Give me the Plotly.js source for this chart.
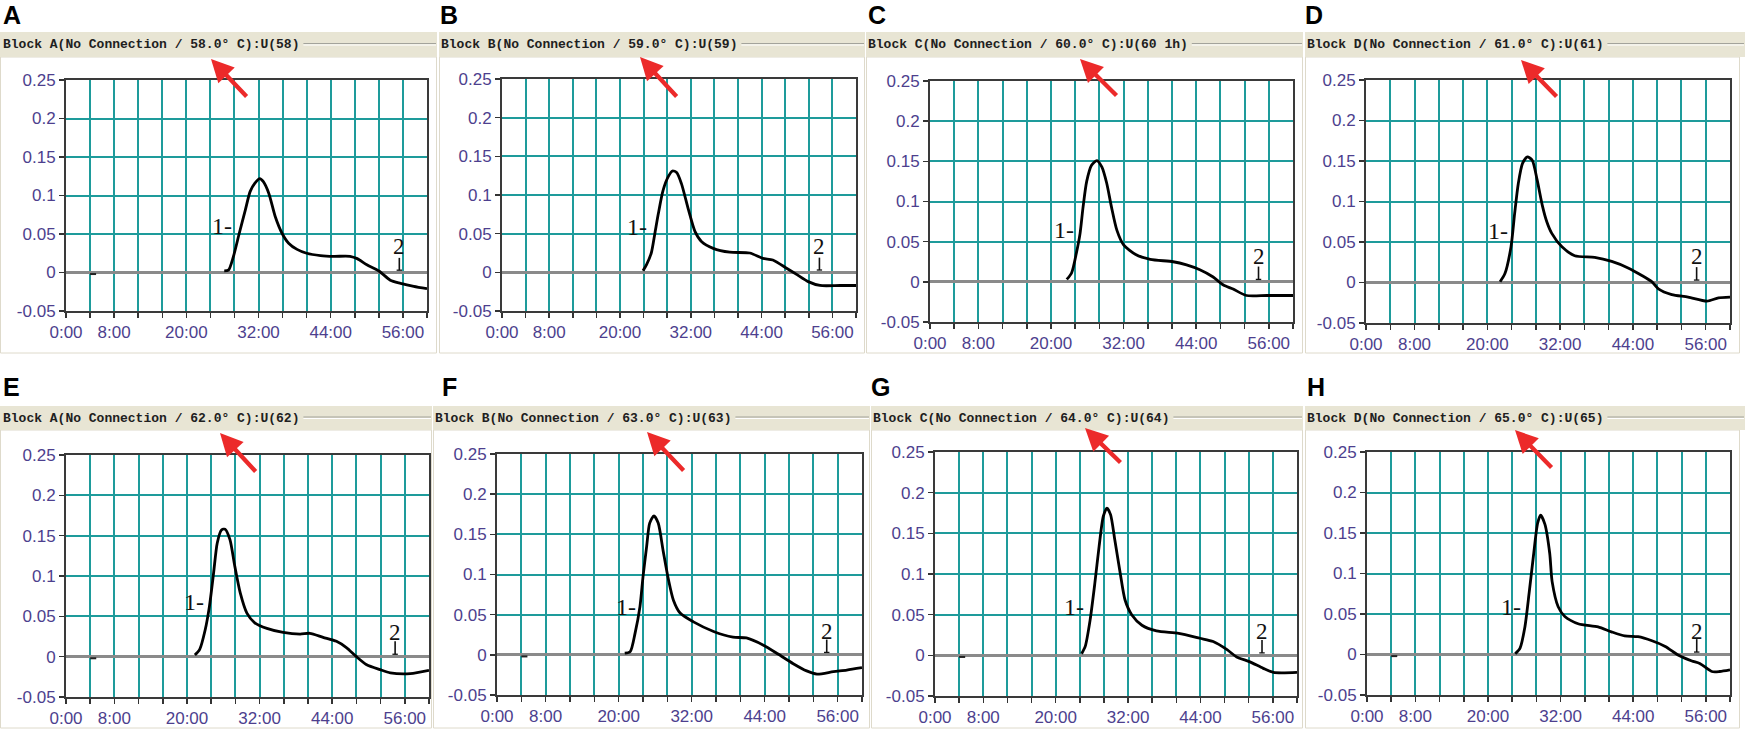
<!DOCTYPE html>
<html><head><meta charset="utf-8">
<script src="https://cdn.plot.ly/plotly-3.0.1.min.js"></script>
<style>html,body{margin:0;padding:0;background:#fff;}#chart{width:1745px;height:729px;}</style>
</head><body><div id="chart"></div>
<script>
// ---------------- DATA ----------------
const panelLetters = ['A','B','C','D','E','F','G','H'];
const panelTitles = [
  'Block A(No Connection / 58.0° C):U(58)',
  'Block B(No Connection / 59.0° C):U(59)',
  'Block C(No Connection / 60.0° C):U(60 1h)',
  'Block D(No Connection / 61.0° C):U(61)',
  'Block A(No Connection / 62.0° C):U(62)',
  'Block B(No Connection / 63.0° C):U(63)',
  'Block C(No Connection / 64.0° C):U(64)',
  'Block D(No Connection / 65.0° C):U(65)'
];
const xTickVals = [0, 8, 20, 32, 44, 56];
const xTickText = ['0:00', '8:00', '20:00', '32:00', '44:00', '56:00'];
const yTickVals = [-0.05, 0, 0.05, 0.1, 0.15, 0.2, 0.25];
const yTickText = ['-0.05', '0', '0.05', '0.1', '0.15', '0.2', '0.25'];

const timeA = [26.3, 27.0, 27.8, 28.8, 29.8, 30.6, 31.4, 32.2, 32.8, 33.7, 34.8, 35.9, 37.0, 38.4, 40.0, 42.3, 44.5, 47.2, 48.4, 50.0, 52.0, 53.9, 55.6, 57.8, 60.0];
const signalA = [0.002, 0.003, 0.020, 0.051, 0.081, 0.105, 0.116, 0.122, 0.118, 0.103, 0.072, 0.051, 0.038, 0.030, 0.025, 0.022, 0.021, 0.021, 0.018, 0.010, 0.002, -0.010, -0.014, -0.018, -0.021];

const timeB = [23.9, 24.5, 25.3, 25.9, 26.5, 27.3, 28.2, 28.9, 29.6, 30.4, 31.6, 32.7, 33.8, 35.8, 38.6, 42.0, 44.2, 45.9, 48.3, 50.0, 51.9, 53.9, 57.3, 60.0];
const signalB = [0.002, 0.010, 0.025, 0.050, 0.076, 0.106, 0.124, 0.131, 0.129, 0.115, 0.081, 0.053, 0.040, 0.031, 0.026, 0.025, 0.018, 0.016, 0.005, -0.003, -0.012, -0.017, -0.017, -0.017];

const timeC = [22.6, 23.4, 24.2, 24.8, 25.3, 25.9, 26.7, 27.6, 28.4, 29.2, 30.0, 30.9, 32.0, 34.0, 36.4, 40.2, 42.4, 44.6, 46.8, 48.5, 50.1, 52.3, 55.7, 60.0];
const signalC = [0.003, 0.011, 0.036, 0.060, 0.093, 0.125, 0.145, 0.151, 0.143, 0.123, 0.093, 0.064, 0.046, 0.034, 0.028, 0.025, 0.021, 0.015, 0.006, -0.004, -0.009, -0.017, -0.017, -0.017];

const timeD = [22.1, 22.9, 23.9, 24.5, 25.1, 25.8, 26.6, 27.4, 28.2, 29.1, 29.8, 30.6, 32.3, 34.4, 37.7, 40.5, 43.2, 45.4, 47.1, 48.2, 50.4, 53.1, 56.2, 58.1, 60.0];
const signalD = [0.001, 0.011, 0.044, 0.085, 0.122, 0.147, 0.155, 0.151, 0.127, 0.094, 0.075, 0.061, 0.044, 0.033, 0.031, 0.026, 0.018, 0.009, 0.001, -0.008, -0.015, -0.018, -0.023, -0.019, -0.018];

const timeE = [21.3, 22.1, 23.0, 23.7, 24.4, 25.0, 25.7, 26.3, 27.1, 27.9, 28.8, 29.9, 31.2, 33.2, 35.9, 38.7, 40.3, 42.5, 44.7, 46.4, 48.0, 49.7, 51.9, 53.6, 56.9, 60.0];
const signalE = [0.002, 0.009, 0.033, 0.062, 0.104, 0.141, 0.157, 0.158, 0.145, 0.112, 0.079, 0.054, 0.042, 0.035, 0.030, 0.028, 0.029, 0.024, 0.019, 0.011, 0.000, -0.010, -0.016, -0.020, -0.021, -0.017];

const timeF = [21.0, 21.9, 22.7, 23.5, 24.0, 24.6, 25.1, 25.8, 26.5, 27.3, 28.2, 29.0, 30.1, 32.3, 35.6, 38.8, 41.0, 43.8, 46.2, 48.7, 50.9, 52.6, 55.3, 57.5, 60.0];
const signalF = [0.002, 0.004, 0.027, 0.060, 0.097, 0.135, 0.164, 0.173, 0.164, 0.130, 0.093, 0.068, 0.052, 0.041, 0.029, 0.022, 0.021, 0.012, 0.001, -0.011, -0.020, -0.024, -0.021, -0.019, -0.016];

const timeG = [24.3, 24.9, 25.7, 26.5, 27.2, 27.9, 28.5, 29.1, 29.8, 30.7, 31.5, 32.6, 34.3, 36.7, 40.4, 43.9, 46.1, 48.4, 50.0, 52.2, 54.4, 56.1, 60.0];
const signalG = [0.002, 0.011, 0.043, 0.089, 0.134, 0.171, 0.181, 0.173, 0.142, 0.101, 0.068, 0.050, 0.037, 0.030, 0.027, 0.021, 0.017, 0.007, -0.002, -0.008, -0.016, -0.021, -0.021];

const timeH = [24.5, 25.3, 26.1, 26.8, 27.5, 28.2, 28.7, 29.4, 30.2, 30.6, 31.6, 32.7, 34.9, 38.2, 40.4, 42.6, 44.8, 47.1, 49.3, 51.5, 53.7, 55.0, 57.0, 58.3, 60.0];
const signalH = [0.001, 0.008, 0.034, 0.076, 0.121, 0.162, 0.172, 0.161, 0.125, 0.090, 0.059, 0.047, 0.038, 0.034, 0.028, 0.023, 0.022, 0.017, 0.010, -0.001, -0.008, -0.011, -0.021, -0.021, -0.019];

// small baseline artefact near 4:00 (time, value)
const artefactTime = [4.0, 5.0];
const artefactValue = [-0.002, -0.002];
const artefactPanels = [0, 4, 5, 6, 7];

const allTimes = [timeA, timeB, timeC, timeD, timeE, timeF, timeG, timeH];
const allSignals = [signalA, signalB, signalC, signalD, signalE, signalF, signalG, signalH];

// ---------------- LAYOUT (pixels) ----------------
const W = 1745, H = 729;
const plotBoxes = [
  [66, 427, 80, 311], [502, 856, 79, 311], [930, 1293, 81, 322], [1366, 1730, 80, 323],
  [66, 429, 455, 697], [497, 862, 454, 695], [935, 1297, 452, 696], [1367, 1730, 452, 695]
];
const barBoxes = [
  [0, 437, 32, 57], [439, 865, 32, 57], [866, 1303, 32, 57], [1305, 1745, 32, 57],
  [0, 432, 406, 430], [433, 870, 406, 430], [871, 1303, 406, 430], [1305, 1745, 406, 430]
];
const panelBottom = [353, 353, 353, 353, 728, 728, 728, 728];
const textStart = [2, 440, 867, 1306, 2, 434, 872, 1306];
const letterPos = [[3, 15], [440, 15], [868, 15], [1305, 15], [3, 387], [442, 387], [871, 387], [1307, 387]];
const arrows = [
  [211, 59, 248, 98], [640, 57, 678, 98], [1080, 59, 1118, 97], [1521, 60, 1558, 98],
  [220, 433, 257, 473], [647, 432, 685, 472], [1085, 428, 1122, 464], [1515, 430, 1553, 469]
];
const label1Pos = [[27.8, 0.061], [24.8, 0.059], [24.0, 0.0645], [23.6, 0.063], [23.0, 0.068], [23.0, 0.060], [24.9, 0.060], [25.7, 0.059]];
const label2Pos = [[55.4, 0.034], [53.8, 0.033], [54.3, 0.031], [54.5, 0.032], [54.4, 0.030], [54.2, 0.029], [54.2, 0.029], [54.5, 0.028]];

const px = x => x / W;
const py = y => 1 - y / H;

const traces = [];
const layout = {
  width: W, height: H,
  margin: {l: 0, r: 0, t: 0, b: 0},
  paper_bgcolor: '#ffffff', plot_bgcolor: '#ffffff',
  showlegend: false,
  shapes: [], annotations: []
};

const gridColor = '#1e9b9b';
const tickFont = {family: 'Liberation Sans, Arial, sans-serif', size: 17, color: '#4d3f8e'};

for (let i = 0; i < 8; i++) {
  const n = i + 1;
  const xa = 'xaxis' + (n === 1 ? '' : n), ya = 'yaxis' + (n === 1 ? '' : n);
  const xr = 'x' + (n === 1 ? '' : n), yr = 'y' + (n === 1 ? '' : n);
  const [x0, x1, y0, y1] = plotBoxes[i];
  layout[xa] = {
    domain: [px(x0), px(x1)], anchor: yr, range: [0, 60], fixedrange: true,
    tickmode: 'array', tickvals: xTickVals, ticktext: xTickText,
    ticks: 'outside', ticklen: 5, tickwidth: 1.5, tickcolor: '#333',
    showgrid: true, gridcolor: gridColor, gridwidth: 2,
    minor: {dtick: 4, tick0: 0, showgrid: true, gridcolor: gridColor, gridwidth: 2, ticks: 'outside', ticklen: 5, tickwidth: 1.5, tickcolor: '#333'},
    zeroline: false, showline: true, mirror: true, linecolor: '#3a3a3a', linewidth: 2,
    tickfont: tickFont
  };
  layout[ya] = {
    domain: [py(y1), py(y0)], anchor: xr, range: [-0.05, 0.25], fixedrange: true,
    tickmode: 'array', tickvals: yTickVals, ticktext: yTickText,
    ticks: 'outside', ticklen: 5, tickwidth: 1.5, tickcolor: '#333',
    showgrid: true, gridcolor: gridColor, gridwidth: 2,
    zeroline: true, zerolinecolor: '#8a8a8a', zerolinewidth: 3,
    showline: true, mirror: true, linecolor: '#3a3a3a', linewidth: 2,
    tickfont: tickFont
  };

  // panel frame
  const [bx0, bx1, by0, by1] = barBoxes[i];
  layout.shapes.push({type: 'rect', xref: 'paper', yref: 'paper', x0: px(bx0 + 0.5), x1: px(Math.min(bx1, 1740) - 0.5), y0: py(panelBottom[i]), y1: py(by1),
    line: {color: '#dedacb', width: 1}, fillcolor: 'rgba(0,0,0,0)', layer: 'below'});
  // title bar
  layout.shapes.push({type: 'rect', xref: 'paper', yref: 'paper', x0: px(bx0), x1: px(bx1), y0: py(by1), y1: py(by0),
    line: {width: 0}, fillcolor: '#e8e5d4', layer: 'below'});
  const midY = (by0 + by1) / 2;
  const lineStart = textStart[i] + panelTitles[i].length * 7.8 + 5;
  layout.shapes.push({type: 'line', xref: 'paper', yref: 'paper', x0: px(lineStart), x1: px(bx1 - 1), y0: py(midY - 1), y1: py(midY - 1),
    line: {color: '#a3a39b', width: 1}, layer: 'below'});
  layout.shapes.push({type: 'line', xref: 'paper', yref: 'paper', x0: px(lineStart), x1: px(bx1 - 1), y0: py(midY + 0.5), y1: py(midY + 0.5),
    line: {color: '#ffffff', width: 1}, layer: 'below'});
  layout.annotations.push({xref: 'paper', yref: 'paper', x: px(textStart[i]), y: py(midY), xanchor: 'left', yanchor: 'middle',
    text: '<b>' + panelTitles[i] + '</b>', showarrow: false, borderpad: 0,
    font: {family: 'Liberation Mono, Courier New, monospace', size: 13, color: '#202020'}});
  // panel letter
  layout.annotations.push({xref: 'paper', yref: 'paper', x: px(letterPos[i][0] - 1), y: py(letterPos[i][1]), xanchor: 'left', yanchor: 'middle',
    text: '<b>' + panelLetters[i] + '</b>', showarrow: false, borderpad: 0,
    font: {family: 'Liberation Sans, Arial, sans-serif', size: 25, color: '#000'}});
  // red arrow
  const [tx, ty, sx, sy] = arrows[i];
  layout.annotations.push({xref: 'paper', yref: 'paper', x: px(tx), y: py(ty), ax: sx - tx, ay: sy - ty,
    text: '', showarrow: true, arrowhead: 2, arrowsize: 1.05, arrowwidth: 4.3, arrowcolor: '#ec2a2a', standoff: 0});
  // peak labels
  layout.annotations.push({xref: xr, yref: yr, x: label1Pos[i][0], y: label1Pos[i][1], xanchor: 'right', yanchor: 'middle',
    text: '1-', showarrow: false, borderpad: 0, font: {family: 'Liberation Serif, Times New Roman, serif', size: 24, color: '#111'}});
  layout.annotations.push({xref: xr, yref: yr, x: label2Pos[i][0], y: label2Pos[i][1], xanchor: 'center', yanchor: 'middle',
    text: '2', showarrow: false, borderpad: 0, font: {family: 'Liberation Serif, Times New Roman, serif', size: 23, color: '#111'}});
  // "I" style marker under label 2
  const t2 = label2Pos[i][0];
  layout.shapes.push({type: 'line', xref: xr, yref: yr, x0: t2, x1: t2, y0: 0.003, y1: 0.019, line: {color: '#111', width: 1.6}});
  layout.shapes.push({type: 'line', xref: xr, yref: yr, x0: t2 - 0.45, x1: t2 + 0.45, y0: 0.003, y1: 0.003, line: {color: '#111', width: 1.3}});

  // curve
  traces.push({type: 'scatter', mode: 'lines', x: allTimes[i], y: allSignals[i], xaxis: xr, yaxis: yr,
    line: {color: '#000', width: 2.8, shape: 'spline', smoothing: 0.7}, hoverinfo: 'skip'});
  if (artefactPanels.includes(i)) {
    traces.push({type: 'scatter', mode: 'lines', x: artefactTime, y: artefactValue, xaxis: xr, yaxis: yr,
      line: {color: '#222', width: 2}, hoverinfo: 'skip'});
  }
}

Plotly.newPlot('chart', traces, layout, {staticPlot: true, displayModeBar: false});
</script>
</body></html>
